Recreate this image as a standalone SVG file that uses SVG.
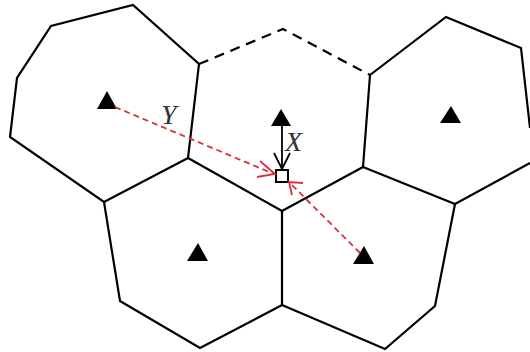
<svg xmlns="http://www.w3.org/2000/svg" width="530" height="352" viewBox="0 0 530 352">
<style>
.cell{fill:none;stroke:#000;stroke-width:2.2;stroke-linejoin:miter}
.dash{fill:none;stroke:#000;stroke-width:2.2;stroke-dasharray:10 7}
.site{fill:#000}
.red{fill:none;stroke:#d8323c;stroke-width:1.8;stroke-dasharray:6 4}
.redhead{fill:none;stroke:#d8323c;stroke-width:1.8}
.blk{fill:none;stroke:#000;stroke-width:1.8}
.lbl{font-family:"Liberation Serif",serif;font-style:italic;font-size:28px;fill:#333}
</style>
<rect width="530" height="352" fill="#fff"/>
<g id="cell-left">
<polyline class="cell" points="188,158 199,64 133,5 51,26 17,78 10,137 104,202 188,158"/>
<polygon class="site" points="107,91 97,109 117,109"/>
</g>
<g id="cell-center">
<polyline class="cell" points="370,75 363,167 282,211 188,158"/>
<polyline class="dash" points="199,64 283,29 370,75"/>
<polygon class="site" points="281,109 271,126 291,126"/>
</g>
<g id="cell-right">
<polyline class="cell" points="370,75 446,17 521,48 530,128"/>
<polyline class="cell" points="363,167 455,204 530,163"/>
<polygon class="site" points="451,106 440,123 461,123"/>
</g>
<g id="cell-lower-left">
<polyline class="cell" points="104,202 120,301 200,348 282,305 282,211"/>
<polygon class="site" points="198,243 187,261 208,261"/>
</g>
<g id="cell-lower-right">
<polyline class="cell" points="455,204 435,306 385,349 282,305"/>
<polygon class="site" points="364,246 353,264 374,264"/>
</g>
<g id="query-point">
<rect x="276" y="170" width="12" height="12" fill="#fff" stroke="#000" stroke-width="2"/>
</g>
<g id="connectors">
<line class="blk" x1="282" y1="126" x2="282" y2="169"/>
<polyline class="blk" points="274,153 282,169 290,153"/>
<text class="lbl" x="285" y="151">X</text>
<line class="red" x1="115" y1="107" x2="274" y2="174"/>
<polyline class="redhead" points="260,161 275,174 257,177"/>
<text class="lbl" x="161" y="124">Y</text>
<line class="red" x1="360" y1="253" x2="289" y2="182"/>
<polyline class="redhead" points="303,183 289,182 292,195"/>
</g>
</svg>
